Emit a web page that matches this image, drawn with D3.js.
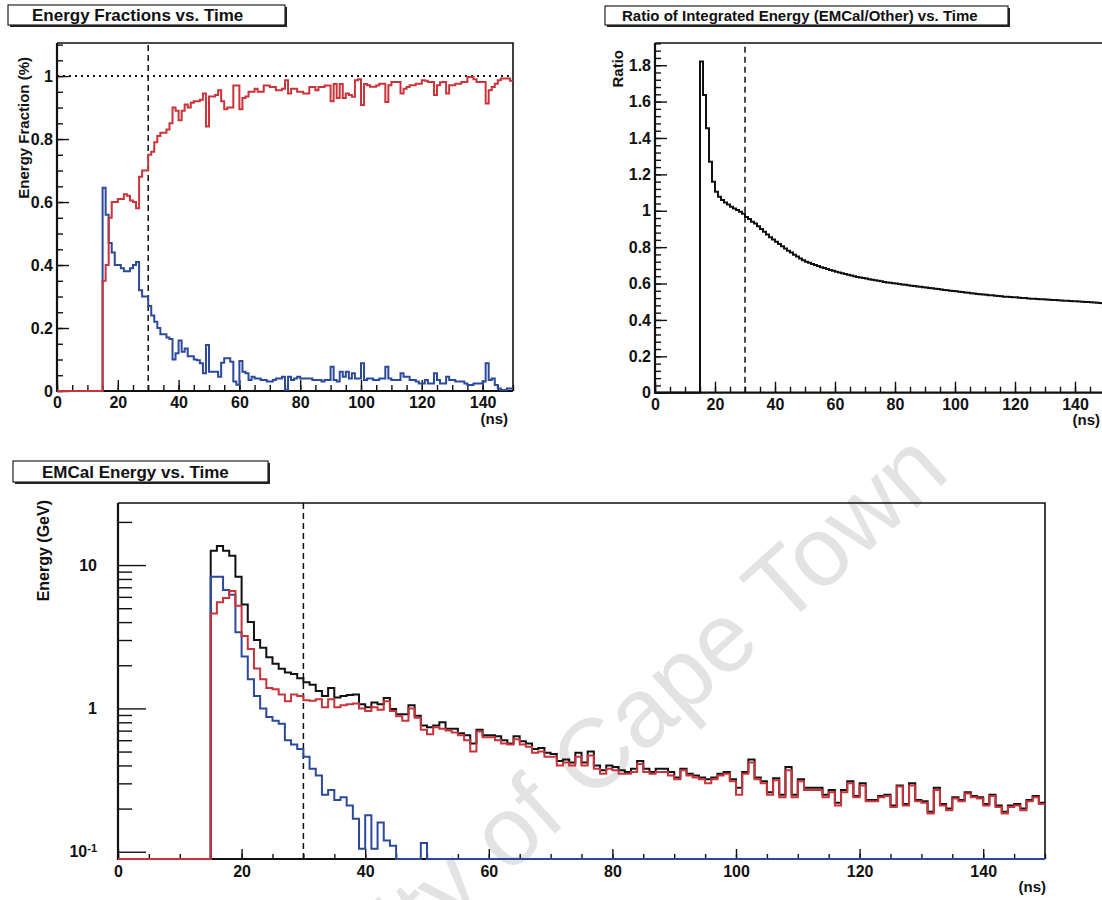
<!DOCTYPE html>
<html>
<head>
<meta charset="utf-8">
<script src="https://cdn.jsdelivr.net/npm/d3@7"></script>
<style>
  body { margin: 0; background: #fff; }
  text { font-family: "Liberation Sans", Arial, Helvetica, sans-serif; font-weight: bold; fill: #111; }
</style>
</head>
<body>
<svg id="chart" width="1102" height="900"></svg>
<script>
// histograms: 150 bins of 1 ns from 0 to 150 ns
const nBins = 150;
const binWidth = 1;
const cutTime = 30;

const timeTicks = [0, 20, 40, 60, 80, 100, 120, 140];
const fracTicks = [0, 0.2, 0.4, 0.6, 0.8, 1];
const ratioTicks = [0, 0.2, 0.4, 0.6, 0.8, 1, 1.2, 1.4, 1.6, 1.8];
const energyTicks = [0.1, 1, 10];
const energyMinorTicks = [0.2, 0.3, 0.4, 0.5, 0.6, 0.7, 0.8, 0.9, 2, 3, 4, 5, 6, 7, 8, 9, 20];

// top left: fraction of energy in EMCal (red) and in the rest (blue)
const fracEMCal = [
  0, 0, 0, 0, 0, 0, 0, 0, 0, 0, 0, 0, 0, 0, 0,
  0.35, 0.40, 0.55, 0.60, 0.60, 0.61, 0.61, 0.625, 0.62, 0.605,
  0.60, 0.58, 0.68, 0.70, 0.70, 0.75, 0.76, 0.79, 0.81, 0.82,
  0.82, 0.83, 0.85, 0.90, 0.89, 0.86, 0.89, 0.91, 0.90, 0.915,
  0.92, 0.92, 0.925, 0.945, 0.84, 0.935, 0.935, 0.94, 0.955, 0.92,
  0.895, 0.90, 0.90, 0.97, 0.97, 0.895, 0.93, 0.935, 0.95, 0.95,
  0.96, 0.95, 0.95, 0.97, 0.97, 0.965, 0.965, 0.955, 0.955, 0.96,
  0.987, 0.945, 0.96, 0.96, 0.95, 0.95, 0.945, 0.945, 0.965, 0.965,
  0.955, 0.965, 0.965, 0.97, 0.97, 0.92, 0.975, 0.93, 0.975, 0.93,
  0.945, 0.94, 0.934, 0.987, 0.99, 0.908, 0.975, 0.971, 0.966, 0.966,
  0.97, 0.976, 0.976, 0.918, 0.971, 0.981, 0.981, 0.981, 0.945, 0.96,
  0.965, 0.971, 0.971, 0.976, 0.976, 0.987, 0.985, 0.981, 0.981, 0.94,
  0.971, 0.98, 0.981, 0.945, 0.971, 0.971, 0.976, 0.976, 0.981, 0.981,
  0.997, 0.997, 0.99, 0.981, 0.981, 0.981, 0.913, 0.955, 0.965, 0.976,
  0.987, 0.992, 0.992, 0.992, 0.985
];
const fracOther = [
  0, 0, 0, 0, 0, 0, 0, 0, 0, 0, 0, 0, 0, 0, 0,
  0.645, 0.56, 0.47, 0.44, 0.40, 0.40, 0.39, 0.38, 0.38, 0.39,
  0.40, 0.41, 0.32, 0.30, 0.30, 0.27, 0.24, 0.22, 0.20, 0.18,
  0.18, 0.17, 0.165, 0.10, 0.12, 0.16, 0.125, 0.135, 0.11, 0.11,
  0.10, 0.098, 0.088, 0.056, 0.146, 0.061, 0.061, 0.061, 0.045, 0.09,
  0.104, 0.104, 0.093, 0.03, 0.02, 0.095, 0.061, 0.056, 0.035, 0.045,
  0.04, 0.04, 0.035, 0.035, 0.03, 0.03, 0.035, 0.04, 0.04, 0.045,
  0.003, 0.045, 0.035, 0.04, 0.045, 0.04, 0.04, 0.04, 0.04, 0.035,
  0.035, 0.035, 0.03, 0.035, 0.035, 0.077, 0.035, 0.03, 0.061, 0.045,
  0.061, 0.04, 0.056, 0.04, 0.04, 0.088, 0.035, 0.04, 0.04, 0.035,
  0.035, 0.04, 0.04, 0.077, 0.04, 0.035, 0.035, 0.035, 0.056, 0.045,
  0.045, 0.035, 0.035, 0.03, 0.024, 0.024, 0.035, 0.024, 0.024, 0.056,
  0.035, 0.024, 0.024, 0.045, 0.035, 0.035, 0.03, 0.03, 0.03, 0.024,
  0.019, 0.019, 0.024, 0.024, 0.024, 0.03, 0.088, 0.035, 0.04, 0.019,
  0.008, 0.003, 0.003, 0.008, 0.008
];

// top right: integrated EMCal energy / other energy
const ratioIntegrated = [
  0, 0, 0, 0, 0, 0, 0, 0, 0, 0, 0, 0, 0, 0, 0,
  1.82, 1.636, 1.453, 1.27, 1.16, 1.104, 1.077, 1.059, 1.045, 1.035,
  1.022, 1.013, 1.004, 0.995, 0.983, 0.965, 0.955, 0.94, 0.93, 0.915,
  0.90, 0.885, 0.87, 0.855, 0.842, 0.83, 0.817, 0.805, 0.792, 0.78,
  0.77, 0.758, 0.748, 0.738, 0.728, 0.72, 0.714, 0.708, 0.702, 0.696,
  0.69, 0.685, 0.68, 0.675, 0.67, 0.665, 0.66, 0.656, 0.652, 0.648,
  0.644, 0.64, 0.636, 0.633, 0.63, 0.627, 0.624, 0.621, 0.618, 0.615,
  0.612, 0.609, 0.606, 0.604, 0.602, 0.60, 0.598, 0.595, 0.593, 0.59,
  0.588, 0.586, 0.584, 0.582, 0.58, 0.578, 0.576, 0.574, 0.572, 0.57,
  0.567, 0.565, 0.563, 0.561, 0.559, 0.557, 0.555, 0.553, 0.551, 0.549,
  0.547, 0.545, 0.543, 0.541, 0.54, 0.538, 0.536, 0.535, 0.533, 0.532,
  0.53, 0.528, 0.527, 0.526, 0.525, 0.524, 0.522, 0.521, 0.52, 0.518,
  0.517, 0.516, 0.515, 0.514, 0.513, 0.512, 0.511, 0.51, 0.509, 0.508,
  0.507, 0.506, 0.505, 0.504, 0.503, 0.502, 0.501, 0.50, 0.499, 0.498,
  0.497, 0.496, 0.494, 0.493, 0.492
];

// bottom: energy per bin (GeV), total (black), EMCal (red), other (blue)
const energyTotal = [
  0, 0, 0, 0, 0, 0, 0, 0, 0, 0, 0, 0, 0, 0, 0,
  12.6, 13.6, 12.6, 11.6, 8.3, 5.3, 4.0, 3.0, 2.65, 2.27,
  2.05, 1.89, 1.78, 1.74, 1.62, 1.52, 1.46, 1.32, 1.22, 1.39,
  1.19, 1.22, 1.24, 1.25, 1.07, 1.02, 1.10, 1.07, 1.18, 0.99,
  0.91, 0.91, 1.05, 0.89, 0.76, 0.74, 0.76, 0.80, 0.72, 0.72,
  0.67, 0.65, 0.57, 0.71, 0.65, 0.65, 0.64, 0.60, 0.57, 0.64,
  0.59, 0.57, 0.52, 0.53, 0.49, 0.48, 0.43, 0.44, 0.42, 0.49,
  0.42, 0.50, 0.40, 0.37, 0.40, 0.39, 0.37, 0.36, 0.38, 0.43,
  0.38, 0.36, 0.38, 0.38, 0.36, 0.33, 0.38, 0.35, 0.34, 0.33,
  0.32, 0.33, 0.35, 0.36, 0.32, 0.28, 0.36, 0.44, 0.33, 0.31,
  0.26, 0.325, 0.25, 0.39, 0.25, 0.32, 0.28, 0.28, 0.28, 0.25,
  0.27, 0.22, 0.27, 0.31, 0.245, 0.30, 0.23, 0.23, 0.245, 0.25,
  0.21, 0.29, 0.215, 0.30, 0.23, 0.225, 0.19, 0.28, 0.215, 0.20,
  0.24, 0.23, 0.26, 0.245, 0.24, 0.215, 0.25, 0.21, 0.19, 0.21,
  0.215, 0.20, 0.23, 0.245, 0.22
];
const energyEMCal = [
  0, 0, 0, 0, 0, 0, 0, 0, 0, 0, 0, 0, 0, 0, 0,
  4.6, 5.5, 5.9, 6.6, 5.2, 3.2, 2.6, 1.9, 1.6, 1.39,
  1.36, 1.25, 1.12, 1.25, 1.22, 1.14, 1.13, 1.16, 1.02, 1.16,
  1.02, 1.05, 1.07, 1.08, 1.0, 0.96, 1.02, 0.98, 1.12, 0.96,
  0.88, 0.82, 1.0, 0.86, 0.71, 0.66, 0.74, 0.72, 0.70, 0.68,
  0.65, 0.60, 0.50, 0.69, 0.63, 0.63, 0.60, 0.57, 0.56, 0.61,
  0.56, 0.54, 0.49, 0.50, 0.46, 0.46, 0.40, 0.42, 0.40, 0.46,
  0.40, 0.47, 0.38, 0.35, 0.38, 0.37, 0.35, 0.35, 0.36, 0.41,
  0.36, 0.35, 0.36, 0.36, 0.34, 0.32, 0.37, 0.34, 0.33, 0.32,
  0.30, 0.32, 0.34, 0.35, 0.31, 0.25, 0.35, 0.42, 0.32, 0.30,
  0.25, 0.315, 0.24, 0.37, 0.24, 0.31, 0.27, 0.27, 0.27, 0.24,
  0.26, 0.21, 0.26, 0.30, 0.24, 0.29, 0.225, 0.225, 0.24, 0.245,
  0.205, 0.285, 0.21, 0.29, 0.225, 0.22, 0.185, 0.27, 0.21, 0.195,
  0.235, 0.225, 0.255, 0.24, 0.235, 0.21, 0.245, 0.205, 0.185, 0.205,
  0.21, 0.195, 0.225, 0.24, 0.215
];
const energyOther = [
  0, 0, 0, 0, 0, 0, 0, 0, 0, 0, 0, 0, 0, 0, 0,
  8.3, 8.3, 6.7, 6.2, 3.4, 2.3, 1.6, 1.22, 1.0, 0.87,
  0.82, 0.78, 0.60, 0.56, 0.52, 0.46, 0.38, 0.34, 0.25, 0.27,
  0.23, 0.24, 0.21, 0.17, 0.105, 0.18, 0.105, 0.16, 0.12, 0.11,
  0, 0, 0, 0, 0.115, 0, 0, 0, 0, 0,
  0, 0, 0, 0, 0, 0, 0, 0, 0, 0,
  0, 0, 0, 0, 0, 0, 0, 0, 0, 0,
  0, 0, 0, 0, 0, 0, 0, 0, 0, 0,
  0, 0, 0, 0, 0, 0, 0, 0, 0, 0,
  0, 0, 0, 0, 0, 0, 0, 0, 0, 0,
  0, 0, 0, 0, 0, 0, 0, 0, 0, 0,
  0, 0, 0, 0, 0, 0, 0, 0, 0, 0,
  0, 0, 0, 0, 0, 0, 0, 0, 0, 0,
  0, 0, 0, 0, 0, 0, 0, 0, 0, 0,
  0, 0, 0, 0, 0
];

const RED = "#c9343b";
const BLUE = "#2b4a9b";
const BLACK = "#111";

const svg = d3.select("#chart");

// scan watermark
svg.append("text")
    .attr("transform", "translate(952,476) rotate(-42)")
    .attr("text-anchor", "end")
    .style("font-weight", "normal")
    .style("font-size", "98px")
    .style("fill", "#e3e3e3")
    .text("University of Cape Town");

function stepPath(x, y, values, floor) {
    const pts = values.map((v, i) => [i * binWidth, v]);
    pts.push([nBins * binWidth, values[values.length - 1]]);
    return d3.line()
        .curve(d3.curveStepAfter)
        .x(d => x(d[0]))
        .y(d => y(Math.max(d[1], floor)))(pts);
}

function titleBox(x, y, w, h, label, size, textX) {
    svg.append("rect").attr("x", x + 2).attr("y", y + 2).attr("width", w).attr("height", h).attr("fill", "#222");
    svg.append("rect").attr("x", x).attr("y", y).attr("width", w).attr("height", h)
        .attr("fill", "#fff").attr("stroke", "#222").attr("stroke-width", 1.2);
    svg.append("text").attr("x", textX).attr("y", y + h - 4.5)
        .style("font-size", size + "px").text(label);
}

function cleanAxis(g) {
    g.select(".domain").remove();
    g.selectAll(".tick line").attr("stroke", BLACK).attr("stroke-width", 1.4);
    g.selectAll(".tick text").style("font-size", "16px").attr("fill", BLACK);
}

function timeAxis(x, y0, majorLen, minorLen, pad) {
    svg.append("g").attr("transform", `translate(0,${y0})`)
        .call(d3.axisBottom(x).tickValues(d3.range(0, 151, 5)).tickSize(-minorLen).tickFormat(""))
        .call(cleanAxis);
    svg.append("g").attr("transform", `translate(0,${y0})`)
        .call(d3.axisBottom(x).tickValues(timeTicks).tickSize(-majorLen).tickPadding(pad).tickFormat(d3.format("d")))
        .call(cleanAxis);
}

function frame(x, y) {
    const [x0, x1] = x.range();
    const [yb, yt] = y.range();
    svg.append("path")
        .attr("d", `M${x0},${yt}H${x1}V${yb}`)
        .attr("fill", "none").attr("stroke", BLACK).attr("stroke-width", 1.6);
    svg.append("path")
        .attr("d", `M${x0},${yt}V${yb}H${x1}`)
        .attr("fill", "none").attr("stroke", BLACK).attr("stroke-width", 2.2);
}

function cutLine(x, y) {
    svg.append("line")
        .attr("x1", x(cutTime)).attr("x2", x(cutTime))
        .attr("y1", y.range()[0]).attr("y2", y.range()[1])
        .attr("stroke", BLACK).attr("stroke-width", 1.5).attr("stroke-dasharray", "6,4");
}

function hist(x, y, values, color, floor) {
    svg.append("path")
        .attr("d", stepPath(x, y, values, floor))
        .attr("fill", "none").attr("stroke", color).attr("stroke-width", 2)
        .attr("stroke-linejoin", "miter");
}

// ---------- Energy fractions ----------
{
    const x = d3.scaleLinear().domain([0, 150]).range([57, 513]);
    const y = d3.scaleLinear().domain([0, 1.105]).range([391, 43]);

    titleBox(8, 5, 277, 20, "Energy Fractions vs. Time", 17, 32);

    svg.append("g").attr("transform", "translate(57,0)")
        .call(d3.axisLeft(y).tickValues(d3.range(0, 1.11, 0.05)).tickSize(-6).tickFormat(""))
        .call(cleanAxis);
    svg.append("g").attr("transform", "translate(57,0)")
        .call(d3.axisLeft(y).tickValues(fracTicks).tickSize(-12).tickPadding(4).tickFormat(d3.format("~g")))
        .call(cleanAxis);
    timeAxis(x, 391, 11, 6, 6);
    frame(x, y);

    svg.append("line")
        .attr("x1", x(0)).attr("x2", x(150)).attr("y1", y(1)).attr("y2", y(1))
        .attr("stroke", BLACK).attr("stroke-width", 2).attr("stroke-dasharray", "2,4");
    cutLine(x, y);

    hist(x, y, fracOther, BLUE, 0);
    hist(x, y, fracEMCal, RED, 0);

    svg.append("text").attr("transform", "translate(29,57) rotate(-90)")
        .attr("text-anchor", "end").style("font-size", "15px").text("Energy Fraction (%)");
    svg.append("text").attr("x", 508).attr("y", 424).attr("text-anchor", "end")
        .style("font-size", "15px").text("(ns)");
}

// ---------- Ratio of integrated energy ----------
{
    const x = d3.scaleLinear().domain([0, 150]).range([655, 1105]);
    const y = d3.scaleLinear().domain([0, 1.922]).range([392.7, 43]);

    titleBox(605, 6, 403, 19, "Ratio of Integrated Energy (EMCal/Other) vs. Time", 15, 622);

    svg.append("g").attr("transform", "translate(655,0)")
        .call(d3.axisLeft(y).tickValues(d3.range(0, 1.921, 0.04)).tickSize(-6).tickFormat(""))
        .call(cleanAxis);
    svg.append("g").attr("transform", "translate(655,0)")
        .call(d3.axisLeft(y).tickValues(ratioTicks).tickSize(-12).tickPadding(4).tickFormat(d3.format("~g")))
        .call(cleanAxis);
    timeAxis(x, 392.7, 11, 6, 6);
    frame(x, y);

    cutLine(x, y);
    hist(x, y, ratioIntegrated, BLACK, 0);

    svg.append("text").attr("transform", "translate(623,50) rotate(-90)")
        .attr("text-anchor", "end").style("font-size", "15px").text("Ratio");
    svg.append("text").attr("x", 1100).attr("y", 425).attr("text-anchor", "end")
        .style("font-size", "15px").text("(ns)");
}

// ---------- EMCal energy ----------
{
    const x = d3.scaleLinear().domain([0, 150]).range([118, 1045]);
    const y = d3.scaleLog().domain([0.089, 27.1]).range([859, 503]);
    const floor = 0.089;

    titleBox(13, 461, 255, 21, "EMCal Energy vs. Time", 17, 42);

    svg.append("g").attr("transform", "translate(118,0)")
        .call(d3.axisLeft(y).tickValues(energyMinorTicks).tickSize(-14).tickFormat(""))
        .call(cleanAxis);
    const yAx = svg.append("g").attr("transform", "translate(118,0)")
        .call(d3.axisLeft(y).tickValues(energyTicks).tickSize(-28).tickPadding(21).tickFormat(d => d === 0.1 ? "" : d3.format("~g")(d)))
        .call(cleanAxis);
    // 10^-1 label with a real superscript
    const low = yAx.selectAll(".tick").filter(d => d === 0.1).select("text");
    low.append("tspan").text("10");
    low.append("tspan").attr("dy", "-0.5em").style("font-size", "11px").text("-1");
    timeAxis(x, 859, 10, 5, 7);
    frame(x, y);

    cutLine(x, y);
    hist(x, y, energyTotal, BLACK, floor);
    hist(x, y, energyOther, BLUE, floor);
    hist(x, y, energyEMCal, RED, floor);

    svg.append("text").attr("transform", "translate(49,500) rotate(-90)")
        .attr("text-anchor", "end").style("font-size", "16px").text("Energy (GeV)");
    svg.append("text").attr("x", 1046).attr("y", 892).attr("text-anchor", "end")
        .style("font-size", "15px").text("(ns)");
}
</script>
</body>
</html>
